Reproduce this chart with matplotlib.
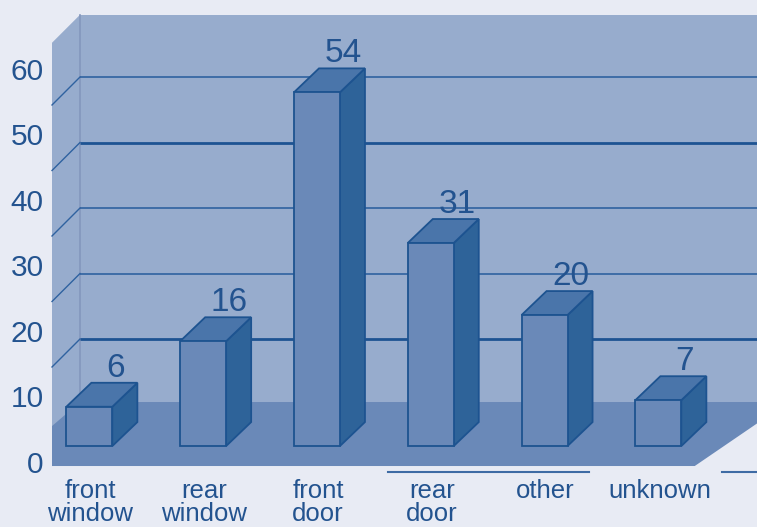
import matplotlib
matplotlib.use("Agg")
import matplotlib.pyplot as plt
from matplotlib import font_manager as fm
from matplotlib.patches import Polygon

# ---- data -------------------------------------------------------------
categories = ["front\nwindow", "rear\nwindow", "front\ndoor", "rear\ndoor", "other", "unknown"]
counts = [6, 16, 54, 31, 20, 7]
y_ticks = [0, 10, 20, 30, 40, 50, 60]
grid_levels = [20, 30, 40, 50, 60]
major_levels = [20, 50]

# ---- style ------------------------------------------------------------
BG = "#E8EBF4"
WALL = "#97ACCD"
WALL_EDGE = "#8397BD"
FLOOR = "#6A89B8"
FRONT = "#6A89B8"
TOP = "#4A75AA"
SIDE = "#2E6399"
EDGE = "#1D5390"
GRID = "#2F62A0"
GRID_MAJOR = "#1D5392"
TEXT = "#23538F"

names = {f.name for f in fm.fontManager.ttflist}
NARROW = "Liberation Sans Narrow" if "Liberation Sans Narrow" in names else "Liberation Sans"
REGULAR = "Liberation Sans"

# geometry of the oblique box (category units on x, value units on y)
BAR_W = 0.404        # bar face width
BAR_BASE = 3.66      # where bar faces meet the floor
DX, DY = 0.22, 3.66  # bar depth offset
WALL_FRONT_X, WALL_BACK_X = -0.328, -0.082
WALL_DY = 4.27       # side-wall slant in value units
WALL_TOP = 69.5
FLOOR_BACK = 10.38
FLOOR_FRONT = 0.61
FLOOR_RIGHT_FRONT = 5.32
X_MIN, X_MAX = -0.785, 5.867
Y_MIN, Y_MAX = -8.70, 71.76

fig = plt.figure(figsize=(7.57, 5.27), dpi=100, facecolor=BG)
ax = fig.add_axes([0, 0, 1, 1])
ax.set_xlim(X_MIN, X_MAX)
ax.set_ylim(Y_MIN, Y_MAX)
ax.axis("off")
ax.set_facecolor(BG)

# back wall
ax.add_patch(Polygon([(WALL_BACK_X, FLOOR_BACK - 1), (X_MAX + 0.1, FLOOR_BACK - 1),
                      (X_MAX + 0.1, WALL_TOP), (WALL_BACK_X, WALL_TOP)],
                     closed=True, facecolor=WALL, edgecolor="none", zorder=1))
# side wall
ax.add_patch(Polygon([(WALL_FRONT_X, FLOOR_FRONT), (WALL_FRONT_X, WALL_TOP - WALL_DY),
                      (WALL_BACK_X, WALL_TOP), (WALL_BACK_X, FLOOR_BACK)],
                     closed=True, facecolor=WALL, edgecolor="none", zorder=1))
ax.plot([WALL_BACK_X, WALL_BACK_X], [FLOOR_BACK, WALL_TOP], color=WALL_EDGE, lw=1.2, zorder=2)

# grid lines on back wall and slanted ticks on the side wall
for g in grid_levels:
    major = g in major_levels
    ax.plot([WALL_BACK_X, X_MAX + 0.1], [g, g], color=GRID_MAJOR if major else GRID,
            lw=2.0 if major else 1.2, zorder=2, solid_capstyle="butt")
    ax.plot([WALL_FRONT_X, WALL_BACK_X], [g - WALL_DY, g], color=GRID, lw=1.0, zorder=2)

# floor
floor_slope = (FLOOR_BACK - FLOOR_FRONT) / (X_MAX - FLOOR_RIGHT_FRONT)
ax.add_patch(Polygon([(WALL_FRONT_X, FLOOR_FRONT), (WALL_FRONT_X, FLOOR_BACK - WALL_DY + 0.6),
                      (WALL_BACK_X, FLOOR_BACK), (X_MAX + 0.1, FLOOR_BACK),
                      (X_MAX + 0.1, FLOOR_BACK - 0.1 * floor_slope - 0.3),
                      (FLOOR_RIGHT_FRONT, FLOOR_FRONT)],
                     closed=True, facecolor=FLOOR, edgecolor="none", zorder=3))

# bars
for i, (cat, val) in enumerate(zip(categories, counts)):
    x0, x1 = i - BAR_W / 2, i + BAR_W / 2
    y0, y1 = BAR_BASE, BAR_BASE + val
    side = [(x1, y0), (x1 + DX, y0 + DY), (x1 + DX, y1 + DY), (x1, y1)]
    top = [(x0, y1), (x1, y1), (x1 + DX, y1 + DY), (x0 + DX, y1 + DY)]
    front = [(x0, y0), (x1, y0), (x1, y1), (x0, y1)]
    for pts, fc in ((side, SIDE), (top, TOP), (front, FRONT)):
        ax.add_patch(Polygon(pts, closed=True, facecolor=fc, edgecolor=EDGE,
                             lw=1.3, joinstyle="miter", zorder=5))
    ax.text(i + 0.23, y1 + DY + 0.9, str(val), ha="center", va="baseline",
            fontsize=24, family=NARROW, color=TEXT, zorder=6)
    ax.text(i + 0.01, -1.37, cat, ha="center", va="top", fontsize=18.5,
            family=REGULAR, color=TEXT, linespacing=0.93, zorder=6)

# value axis labels
for t in y_ticks:
    ax.text(-0.40, t + 0.8, str(t), ha="right", va="center", fontsize=21.5,
            family=NARROW, color=TEXT, zorder=6)

# thin rules under the floor
ax.plot([2.625, 4.39], [-0.3, -0.3], color="#3E6BA4", lw=1.5, zorder=2)
ax.plot([5.56, X_MAX + 0.1], [-0.3, -0.3], color="#3E6BA4", lw=1.5, zorder=2)

fig.savefig("out.png", dpi=100, facecolor=BG)
